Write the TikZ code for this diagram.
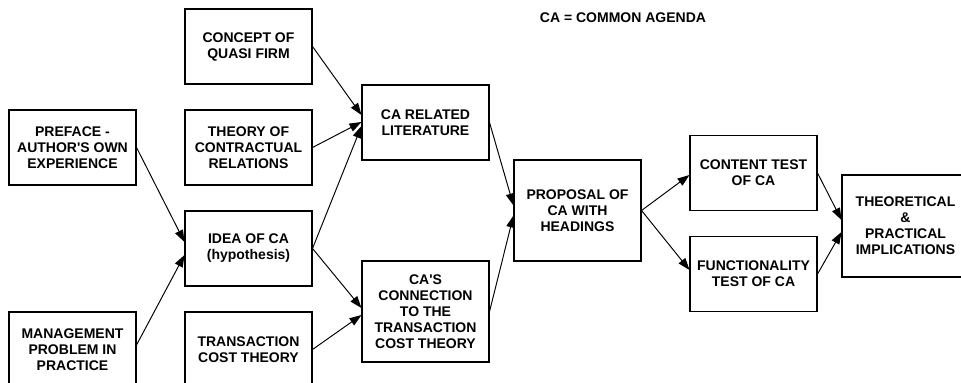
\documentclass[tikz,border=0pt]{standalone}
\usepackage{fontspec}
\setmainfont{Liberation Sans}[Ligatures=TeXOff]
\usepackage{tikz}
\usetikzlibrary{arrows, arrows.meta, positioning}

\tikzset{
  stage/.style={draw, line width=0.6pt, minimum width=2.54cm, minimum height=1.5cm,
    align=center, inner sep=1pt, font=\fontsize{7.97}{9.1}\selectfont\bfseries},
  tall/.style={minimum height=2.02cm},
  arr/.style={line width=0.55pt, -{Triangle[length=0.24cm,width=0.17cm]}}
}

\begin{document}
\begin{tikzpicture}
  \useasboundingbox (0,0) rectangle (19.22,-7.66);
  \node[stage] (preface)     at (1.45,-2.95)  {PREFACE -\\AUTHOR'S OWN\\EXPERIENCE};
  \node[stage] (management)  at (1.45,-6.99)  {MANAGEMENT\\PROBLEM IN\\PRACTICE};
  \node[stage] (concept)     at (4.97,-0.93)  {CONCEPT OF\\QUASI FIRM};
  \node[stage] (theory)      at (4.97,-2.95)  {THEORY OF\\CONTRACTUAL\\RELATIONS};
  \node[stage] (idea)        at (4.97,-4.97)  {IDEA OF CA\\(hypothesis)};
  \node[stage] (transaction) at (4.97,-6.99)  {TRANSACTION\\COST THEORY};
  \node[stage] (carel)       at (8.51,-2.45)  {CA RELATED\\LITERATURE};
  \node[stage,tall] (connection) at (8.51,-6.23) {CA'S\\CONNECTION\\TO THE\\TRANSACTION\\COST THEORY};
  \node[stage,tall] (proposal)   at (11.55,-4.21) {PROPOSAL OF\\CA WITH\\HEADINGS};
  \node[stage] (content)     at (15.07,-3.46) {CONTENT TEST\\OF CA};
  \node[stage] (functional)  at (15.07,-5.48) {FUNCTIONALITY\\TEST OF CA};
  \node[stage,tall,minimum height=2.04cm] (implications) at (18.11,-4.52) {THEORETICAL\\\&\\PRACTICAL\\IMPLICATIONS};
  \node[font=\fontsize{7.97}{9.1}\selectfont\bfseries] (legend) at (12.46,-0.36) {CA = COMMON AGENDA};

  \draw[arr] (preface.east) -- ([yshift=0.13cm]idea.west);
  \draw[arr] ([yshift=0.09cm]management.east) -- ([yshift=-0.13cm]idea.west);
  \draw[arr] (concept.east) -- ([yshift=0.15cm]carel.west);
  \draw[arr] (theory.east) -- ([yshift=0.01cm]carel.west);
  \draw[arr] (idea.east) -- ([yshift=-0.07cm]carel.west);
  \draw[arr] (idea.east) -- ([yshift=0.07cm]connection.west);
  \draw[arr] (transaction.east) -- ([yshift=-0.07cm]connection.west);
  \draw[arr] (carel.east) -- ([yshift=0.1cm]proposal.west);
  \draw[arr] (connection.east) -- ([yshift=-0.1cm]proposal.west);
  \draw[arr] (proposal.east) -- ([yshift=-0.04cm]content.west);
  \draw[arr] (proposal.east) -- ([yshift=0.08cm]functional.west);
  \draw[arr] (content.east) -- ([yshift=0.12cm]implications.west);
  \draw[arr] (functional.east) -- ([yshift=-0.12cm]implications.west);
\end{tikzpicture}
\end{document}
